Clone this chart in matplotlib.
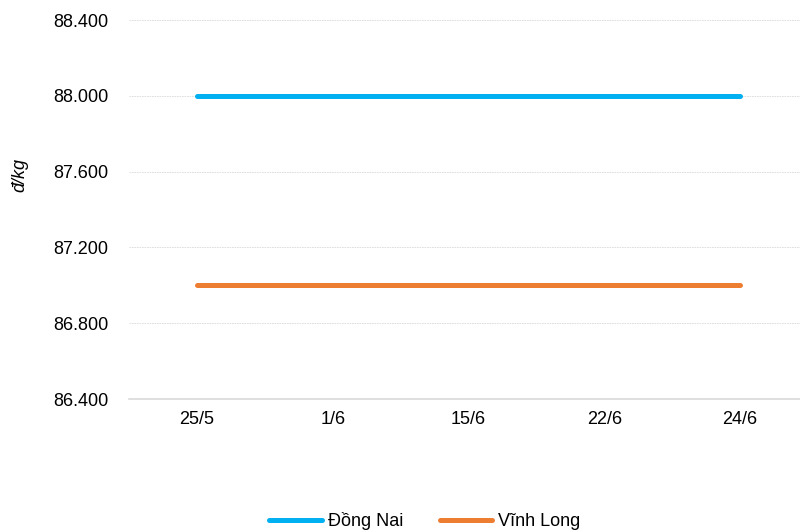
import matplotlib
matplotlib.use('Agg')
import matplotlib.pyplot as plt
from matplotlib.ticker import FuncFormatter

plt.rcParams['font.family'] = ['Liberation Sans', 'DejaVu Sans']

# Dữ liệu
ngay = ['25/5', '1/6', '15/6', '22/6', '24/6']
dong_nai = [88000, 88000, 88000, 88000, 88000]
vinh_long = [87000, 87000, 87000, 87000, 87000]
y_ticks = [86400, 86800, 87200, 87600, 88000, 88400]

fig = plt.figure(figsize=(8, 5.32), dpi=100)
ax = fig.add_axes([129 / 800, 1 - 399 / 532, 679 / 800, (399 - 20) / 532])

x = range(len(ngay))
ax.plot(x, dong_nai, color='#00B0F0', lw=3.6, solid_capstyle='round', label='Đồng Nai')
ax.plot(x, vinh_long, color='#ED7D31', lw=3.6, solid_capstyle='round', label='Vĩnh Long')

ax.set_xlim(-0.5, len(ngay) - 0.5)
ax.set_ylim(86400, 88400)
ax.set_yticks(y_ticks)
ax.yaxis.set_major_formatter(FuncFormatter(lambda v, p: f'{int(v):,}'.replace(',', '.')))
ax.set_xticks(list(x))
ax.set_xticklabels(ngay)

ax.grid(axis='y', color='#D9D9D9', lw=0.6, ls=(0, (2, 1)))
ax.set_axisbelow(True)
for s in ['top', 'right', 'left']:
    ax.spines[s].set_visible(False)
ax.spines['bottom'].set_color('#D9D9D9')
ax.spines['bottom'].set_linewidth(1.2)
ax.tick_params(length=0, labelsize=13, colors='black')
ax.tick_params(axis='y', pad=15)
ax.tick_params(axis='x', pad=9)

fig.text(20 / 800, 1 - 175 / 532, 'đ/kg', rotation=90, style='italic', fontsize=13,
         ha='center', va='center')

fig.legend(loc='center', bbox_to_anchor=(425 / 800, 1 - 521 / 532), ncol=2, frameon=False,
           fontsize=13, handlelength=2.9, handletextpad=0.35, columnspacing=2.0)

fig.savefig('out.png', dpi=100)
